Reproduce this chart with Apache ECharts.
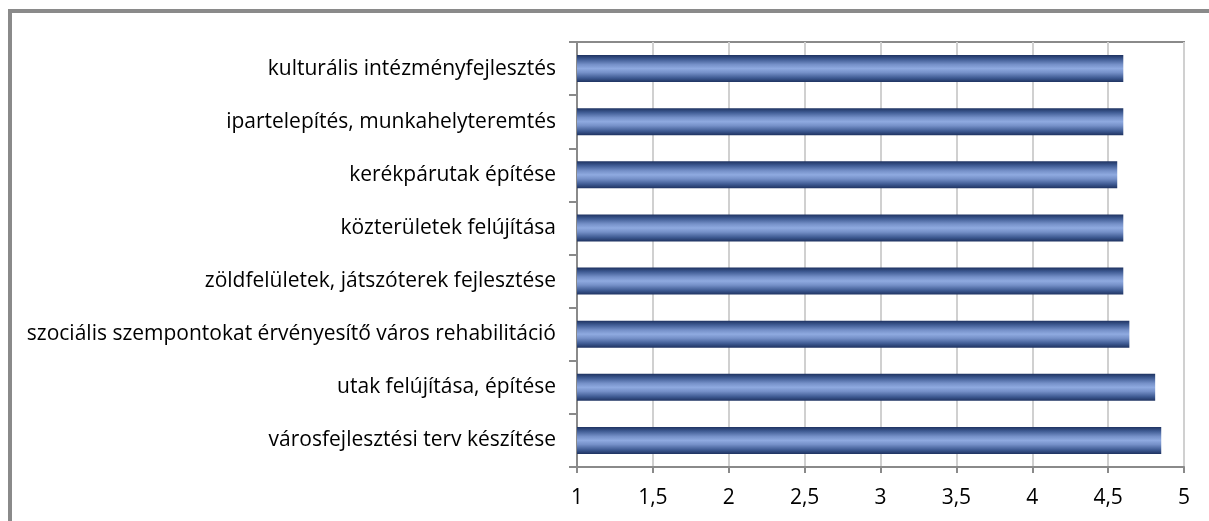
<!DOCTYPE html>
<html>
<head>
<meta charset="utf-8">
<script src="https://cdn.jsdelivr.net/npm/echarts@6/dist/echarts.min.js"></script>
<style>
html,body{margin:0;padding:0;background:#fff;}
#chart{width:1209px;height:521px;}
</style>
</head>
<body>
<div id="chart"></div>
<script>
// Categories listed bottom to top (as drawn on a category y-axis)
const categories = [
  "városfejlesztési terv készítése",
  "utak felújítása, építése",
  "szociális szempontokat érvényesítő város rehabilitáció",
  "zöldfelületek, játszóterek fejlesztése",
  "közterületek felújítása",
  "kerékpárutak építése",
  "ipartelepítés, munkahelyteremtés",
  "kulturális intézményfejlesztés"
];
const values = [4.85, 4.81, 4.64, 4.6, 4.6, 4.56, 4.6, 4.6];
const xMin = 1;
const xMax = 5;
const xInterval = 0.5;

const chart = echarts.init(document.getElementById('chart'), null, {renderer: 'canvas'});
const labelFont = "'Open Sans', 'Noto Sans', sans-serif";

chart.setOption({
  animation: false,
  graphic: [{
    type: 'rect',
    shape: {x: 10, y: 11, width: 1240, height: 560},
    style: {fill: 'none', stroke: '#8a8a8a', lineWidth: 4},
    silent: true,
    z: 100
  }],
  grid: {
    left: 577, right: 25, top: 42, bottom: 54,
    containLabel: false,
    show: true,
    borderColor: '#8a8a8a',
    borderWidth: 2,
    backgroundColor: 'transparent'
  },
  xAxis: {
    type: 'value',
    min: xMin, max: xMax, interval: xInterval,
    axisLine: {show: true, lineStyle: {color: '#8a8a8a', width: 2}},
    axisTick: {show: true, length: 6, lineStyle: {color: '#8a8a8a', width: 2}},
    splitLine: {show: true, lineStyle: {color: '#d0d0d0', width: 2}},
    axisLabel: {
      color: '#000', fontSize: 21, fontFamily: labelFont, margin: 21,
      formatter: v => String(v).replace('.', ',')
    }
  },
  yAxis: {
    type: 'category',
    data: categories,
    axisLine: {show: true, lineStyle: {color: '#8a8a8a', width: 2}},
    axisTick: {show: true, length: 8, alignWithLabel: false, lineStyle: {color: '#8a8a8a', width: 2}},
    axisLabel: {color: '#000', fontSize: 21, fontFamily: labelFont, margin: 21},
    splitLine: {show: false}
  },
  series: [{
    type: 'bar',
    data: values,
    barWidth: '51%',
    itemStyle: {
      color: new echarts.graphic.LinearGradient(0, 0, 0, 1, [
        {offset: 0, color: '#1e3260'},
        {offset: 0.15, color: '#3e5a92'},
        {offset: 0.35, color: '#7590c8'},
        {offset: 0.5, color: '#8faae0'},
        {offset: 0.65, color: '#7590c8'},
        {offset: 0.85, color: '#3e5a92'},
        {offset: 1, color: '#1e3260'}
      ])
    }
  }]
});
</script>
</body>
</html>
